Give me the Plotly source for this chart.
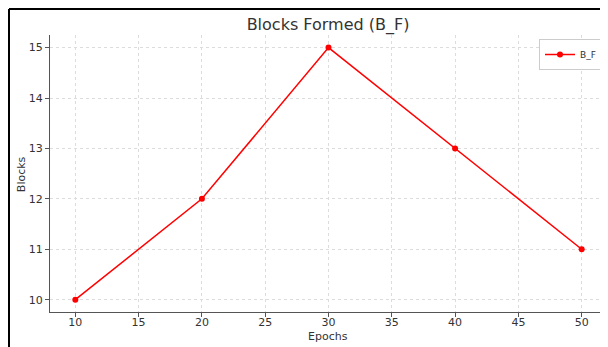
import plotly.graph_objects as go

epochs = [10, 20, 30, 40, 50]
blocks = [10, 12, 15, 13, 11]
x_ticks = [10, 15, 20, 25, 30, 35, 40, 45, 50]
y_ticks = [10, 11, 12, 13, 14, 15]

# page body has an 8px margin, so the figure is laid out 8px up/left
W, H = 600, 339
L, R, T = 42, 1, 27
B = H - 303.7
pw = W - L - R
ph = H - T - B

fig = go.Figure()
fig.add_trace(go.Scatter(
    x=epochs, y=blocks, mode="lines+markers", name="B_F",
    line=dict(color="#ff0000", width=1.5),
    marker=dict(color="#ff0000", size=6),
))

grid = dict(showgrid=True, gridcolor="#dcdcdc", griddash="dot", gridwidth=1)
fig.update_xaxes(range=[8, 52], tickvals=x_ticks, ticks="outside", ticklen=0,
                 minor=dict(tickvals=x_ticks, ticks="outside", ticklen=4, tickcolor="#555",
                            showgrid=False),
                 showline=True, linecolor="#555", linewidth=1.2,
                 zeroline=False, automargin=False,
                 tickfont=dict(size=11, color="#333"), **grid)
fig.update_yaxes(range=[9.755, 15.25], tickvals=y_ticks, ticks="outside", ticklen=4,
                 tickcolor="#555", showline=True, linecolor="#555", linewidth=1.2,
                 zeroline=False, automargin=False,
                 tickfont=dict(size=11, color="#333"), **grid)

# axis titles
fig.add_annotation(text="Epochs", xref="paper", yref="paper",
                   x=(320 - L) / pw, y=-(328 - (T + ph)) / ph,
                   xanchor="center", yanchor="middle", showarrow=False,
                   font=dict(size=11, color="#333"))
fig.add_annotation(text="Blocks", xref="paper", yref="paper",
                   x=(13 - L) / pw, y=(T + ph - 166) / ph, textangle=-90,
                   xanchor="center", yanchor="middle", showarrow=False,
                   font=dict(size=11, color="#333"))

# black frame (left and top edges of the figure border)
fx = (1 - L) / pw
fy = (ph + T - 1) / ph
fig.add_shape(type="line", xref="paper", yref="paper", x0=fx, x1=fx, y0=-0.2, y1=fy,
              line=dict(color="black", width=2))
fig.add_shape(type="line", xref="paper", yref="paper", x0=fx, x1=1.1, y0=fy, y1=fy,
              line=dict(color="black", width=2))

fig.update_layout(
    width=W, height=H,
    margin=dict(l=L, r=R, t=T, b=B, autoexpand=False),
    paper_bgcolor="white", plot_bgcolor="white",
    font=dict(family="DejaVu Sans", color="#333"),
    title=dict(text="Blocks Formed (B_F)", x=(320 - L) / pw, xref="paper", xanchor="center",
               y=1 - 16 / H, yanchor="middle", font=dict(size=16, color="#333")),
    showlegend=True,
    legend=dict(x=(594 - L) / pw, y=(ph + T - 31) / ph, xanchor="right", yanchor="top",
                bgcolor="white", bordercolor="#cccccc", borderwidth=1,
                font=dict(size=9, color="#333"), itemwidth=30,
                tracegroupgap=0),
)

fig.write_html("out.html")
